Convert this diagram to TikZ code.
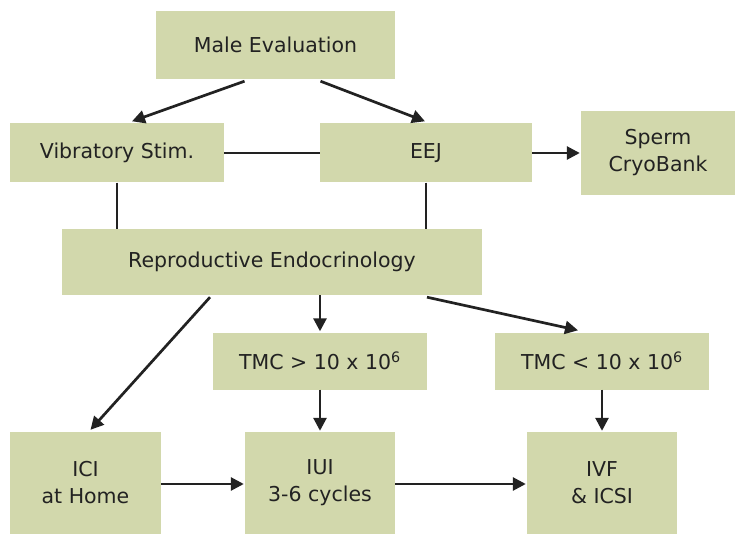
\documentclass[tikz,border=0pt]{standalone}
\usepackage{fontspec}
\setmainfont{DejaVu Sans}
\usepackage{tikz}
\usetikzlibrary{arrows.meta,positioning,calc}
\definecolor{boxgreen}{HTML}{D2D8AC}
\definecolor{ink}{HTML}{222222}

\begin{document}
\begin{tikzpicture}[x=1pt,y=-1pt,font=\fontsize{20.5}{27}\selectfont,text=ink,
  box/.style={fill=boxgreen,align=center,inner sep=0pt},
  arr/.style={-{Triangle[length=13pt,width=13pt]},line width=2.7pt,draw=ink},
  ln/.style={line width=2.7pt,draw=ink}]
\useasboundingbox (0,0) rectangle (741,534);
\node[box,minimum width=239,minimum height=68] (male) at (275.5,45) {Male Evaluation};
\node[box,minimum width=214,minimum height=59] (vib) at (117,153) {Vibratory Stim.};
\node[box,minimum width=212,minimum height=59] (eej) at (426,153) {EEJ};
\node[box,minimum width=154,minimum height=84] (cryo) at (658,153) {Sperm\\CryoBank};
\node[box,minimum width=420,minimum height=66] (repro) at (272,262) {Reproductive Endocrinology};
\node[box,minimum width=214,minimum height=57] (tmchi) at (320,361) {TMC > 10 x 10\textsuperscript{6}};
\node[box,minimum width=214,minimum height=57] (tmclo) at (602,361) {TMC < 10 x 10\textsuperscript{6}};
\node[box,minimum width=151,minimum height=102] (ici) at (85.5,483) {ICI\\at Home};
\node[box,minimum width=150,minimum height=102] (iui) at (320,483) {IUI\\3-6 cycles};
\node[box,minimum width=150,minimum height=102] (ivf) at (602,483) {IVF\\\& ICSI};
% top part
\draw[arr] ([xshift=-31pt,yshift=-2pt]male.south) -- ([xshift=15pt,yshift=2pt]vib.north);
\draw[arr] ([xshift=45pt,yshift=-2pt]male.south) -- ([xshift=-1pt,yshift=2pt]eej.north);
\draw[ln] (vib.east) -- (eej.west);
\draw[arr] (eej.east) -- ([xshift=-1pt]cryo.west);
\draw[ln] (vib.south) -- (vib.south |- repro.north);
\draw[ln] (eej.south) -- (eej.south |- repro.north);
% from endocrinology
\draw[arr] ([xshift=-62pt,yshift=-2pt]repro.south) -- ([xshift=5pt,yshift=2pt]ici.north);
\draw[arr] ([xshift=48pt]repro.south) -- ([yshift=1pt]tmchi.north);
\draw[arr] ([xshift=155pt,yshift=-2pt]repro.south) -- ([xshift=-24pt,yshift=2pt]tmclo.north);
\draw[arr] (tmchi.south) -- ([yshift=1pt]iui.north);
\draw[arr] (tmclo.south) -- ([yshift=1pt]ivf.north);
% bottom row
\draw[arr] ([yshift=-1pt]ici.east) -- ([xshift=-1pt,yshift=-1pt]iui.west);
\draw[arr] ([yshift=-1pt]iui.east) -- ([xshift=-1pt,yshift=-1pt]ivf.west);
\end{tikzpicture}
\end{document}
